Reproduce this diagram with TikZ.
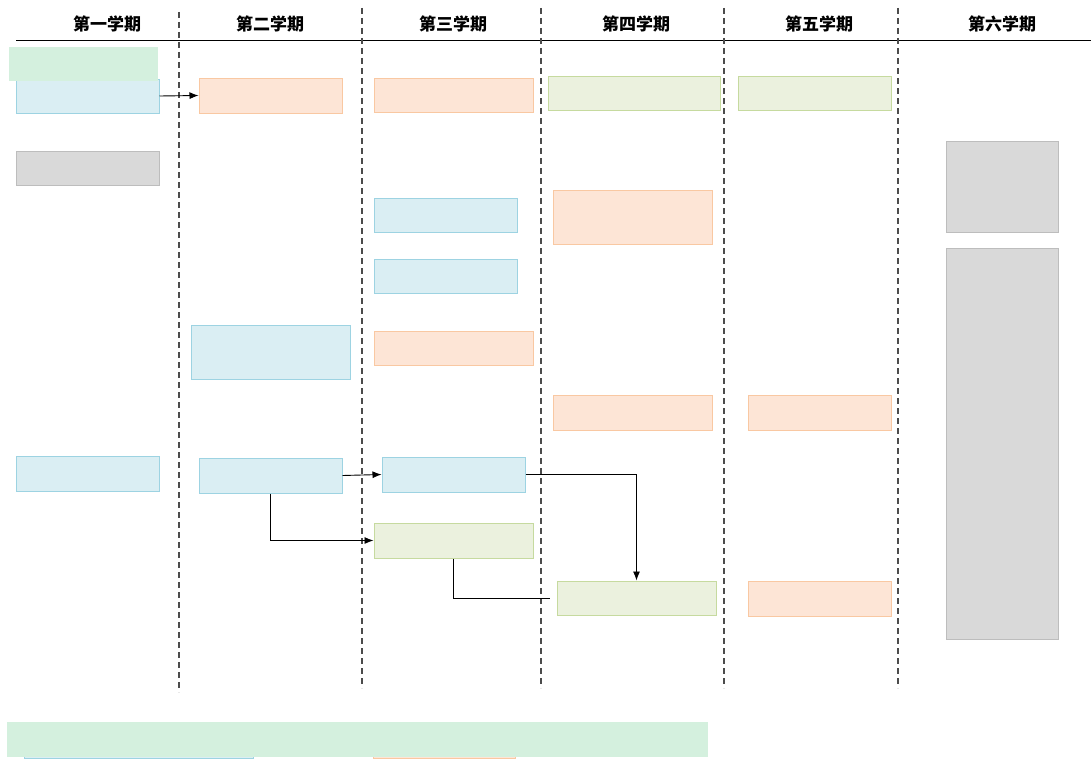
\documentclass[tikz,border=0pt]{standalone}
\usepackage{fontspec}
\newfontfamily\cjk{Noto Sans CJK SC}
\usepackage{xcolor}
\usepackage{tikz}
\usetikzlibrary{arrows.meta,positioning}

\definecolor{bluefill}{HTML}{DAEEF3}
\definecolor{blueline}{HTML}{9DD3E2}
\definecolor{orangefill}{HTML}{FDE5D6}
\definecolor{orangeline}{HTML}{F9C8A2}
\definecolor{greenfill}{HTML}{EBF1DE}
\definecolor{greenline}{HTML}{C6DA9F}
\definecolor{grayfill}{HTML}{D9D9D9}
\definecolor{grayline}{HTML}{BDBDBD}
\definecolor{mintfill}{HTML}{D4F0DE}

\begin{document}
\begin{tikzpicture}
[x=1pt,y=-1pt,>={Latex[length=9pt,width=7pt]},
box/.style={rectangle, inner sep=0pt, line width=1pt},
blue box/.style={box, draw=blueline, fill=bluefill},
orange box/.style={box, draw=orangeline, fill=orangefill},
green box/.style={box, draw=greenline, fill=greenfill},
gray box/.style={box, draw=grayline, fill=grayfill},
mint box/.style={box, fill=mintfill},
term/.style={font=\cjk\bfseries\fontsize{17}{19}\selectfont},
divider/.style={draw=black!70, line width=1.1pt, dash pattern=on 6pt off 4pt}]

  \useasboundingbox (0,0) rectangle (1091,760);

  % header
  \node[term] (t1) at (107,24) {第一学期};
  \node[term] (t2) at (270,24) {第二学期};
  \node[term] (t3) at (453,24) {第三学期};
  \node[term] (t4) at (636,24) {第四学期};
  \node[term] (t5) at (819,24) {第五学期};
  \node[term] (t6) at (1002,24) {第六学期};
  \coordinate (hl) at (16,41);
  \coordinate (hr) at (1091,41);
  \draw[line width=1pt] (hl) -- (hr);

  % semester dividers
  \coordinate (d1a) at (179,12);  \coordinate (d1b) at (179,692);
  \coordinate (d2a) at (362,8);   \coordinate (d2b) at (362,688);
  \coordinate (d3a) at (541,8);   \coordinate (d3b) at (541,688);
  \coordinate (d4a) at (724,8);   \coordinate (d4b) at (724,688);
  \coordinate (d5a) at (898,8);   \coordinate (d5b) at (898,688);
  \foreach \d in {d1,d2,d3,d4,d5}
    \draw[divider] (\d a) -- (\d b);

  % first semester
  \node[blue box, minimum width=143pt, minimum height=34pt] (b1) at (87.5,96) {};
  \node[mint box, minimum width=149pt, minimum height=34pt] (m1) at (83.5,64) {};
  \node[gray box, minimum width=143pt, minimum height=34pt] (gr1) at (87.5,168) {};
  \node[blue box, minimum width=143pt, minimum height=35pt] (b1b) at (87.5,473.5) {};

  % second semester
  \node[orange box, minimum width=143pt, minimum height=35pt] (o2) at (270.5,95.5) {};
  \node[blue box, minimum width=159pt, minimum height=54pt] (b2) at (270.5,352) {};
  \node[blue box, minimum width=143pt, minimum height=35pt] (b2b) at (270.5,475.5) {};

  % third semester
  \node[orange box, minimum width=159pt, minimum height=34pt] (o3) at (453.5,95) {};
  \node[blue box, minimum width=143pt, minimum height=34pt] (b3a) at (445.5,215) {};
  \node[blue box, minimum width=143pt, minimum height=34pt] (b3b) at (445.5,276) {};
  \node[orange box, minimum width=159pt, minimum height=34pt] (o3b) at (453.5,348) {};
  \node[blue box, minimum width=143pt, minimum height=35pt] (b3c) at (453.5,474.5) {};
  \node[green box, minimum width=159pt, minimum height=35pt] (g3) at (453.5,540.5) {};

  % fourth semester
  \node[green box, minimum width=172pt, minimum height=34pt] (g4a) at (634,93) {};
  \node[orange box, minimum width=159pt, minimum height=54pt] (o4) at (632.5,217) {};
  \node[orange box, minimum width=159pt, minimum height=35pt] (o4b) at (632.5,412.5) {};
  \node[green box, minimum width=159pt, minimum height=34pt] (g4) at (636.5,598) {};
  \coordinate[left=7pt of g4.west] (g4gap);

  % fifth semester
  \node[green box, minimum width=153pt, minimum height=34pt] (g5) at (814.5,93) {};
  \node[orange box, minimum width=143pt, minimum height=35pt] (o5) at (819.5,412.5) {};
  \node[orange box, minimum width=143pt, minimum height=35pt] (o5b) at (819.5,598.5) {};

  % sixth semester
  \node[gray box, minimum width=112pt, minimum height=91pt] (gr6a) at (1002,186.5) {};
  \node[gray box, minimum width=112pt, minimum height=391pt] (gr6b) at (1002,443.5) {};

  % bottom band
  \node[blue box, minimum width=229pt, minimum height=34pt] (bb) at (138.5,741) {};
  \node[orange box, minimum width=142pt, minimum height=34pt] (ob) at (444,741) {};
  \node[mint box, minimum width=701pt, minimum height=35pt] (band) at (357.5,739.5) {};

  % links
  \path[->, line width=0.9pt]
    (b1.east) edge (o2.west)
    (b2b.east) edge (b3c.west);
  \draw[->, line width=0.9pt] (b2b.south) |- (g3.west);
  \draw[->, line width=0.9pt] (b3c.east) -| (g4.north);
  \draw[line width=0.9pt] (g3.south) |- (g4gap);

\end{tikzpicture}
\end{document}
